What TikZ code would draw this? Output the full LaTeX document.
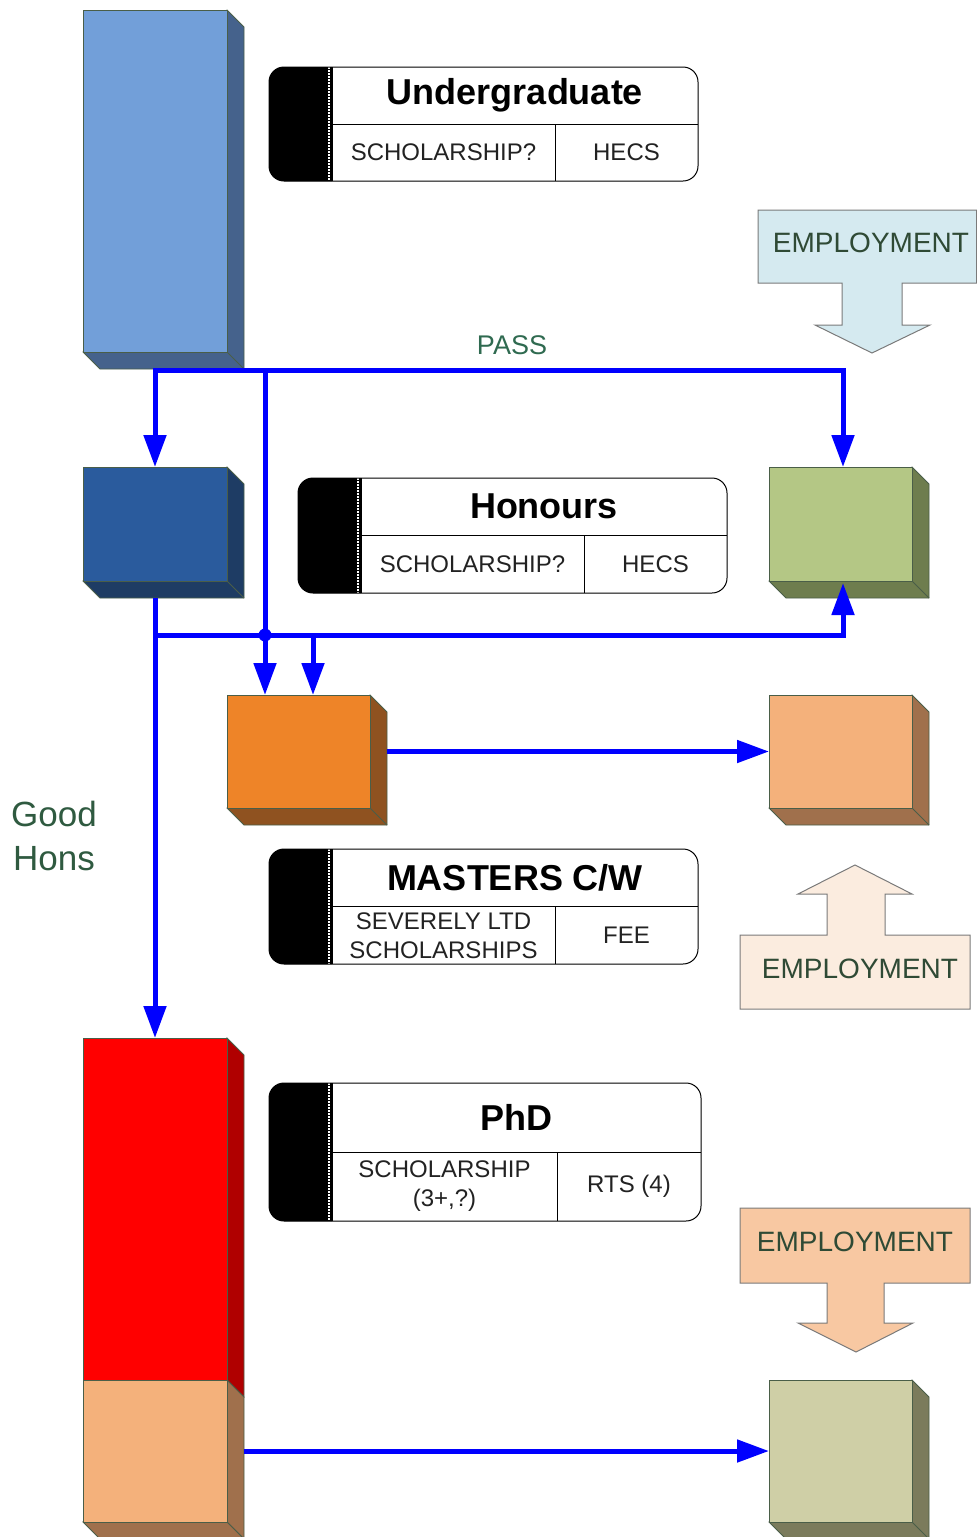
\documentclass[tikz,border=0pt]{standalone}
\usepackage{fontspec}
\setmainfont{Liberation Sans}
\usetikzlibrary{arrows.meta}
\definecolor{edgecol}{HTML}{4A5E48}
\definecolor{connblue}{HTML}{0000FF}
\definecolor{ugfront}{HTML}{729FD9}
\definecolor{ugside}{HTML}{45628C}
\definecolor{hnfront}{HTML}{2A5B9D}
\definecolor{hnside}{HTML}{1E3C64}
\definecolor{grfront}{HTML}{B4C785}
\definecolor{grside}{HTML}{6E7D4E}
\definecolor{orfront}{HTML}{EE8428}
\definecolor{orside}{HTML}{8F5220}
\definecolor{pcfront}{HTML}{F4B17B}
\definecolor{pcside}{HTML}{A0704C}
\definecolor{rdfront}{HTML}{FF0000}
\definecolor{rdside}{HTML}{B00000}
\definecolor{khfront}{HTML}{CFCFA6}
\definecolor{khside}{HTML}{7B7B5C}
\definecolor{callgray}{HTML}{7A7A7A}
\definecolor{emptext}{HTML}{2F4A35}
\definecolor{passtext}{HTML}{2F6A50}
\definecolor{honstext}{HTML}{2F5A40}
\definecolor{celltext}{HTML}{222222}
\definecolor{empA}{HTML}{D5EAF0}
\definecolor{empB}{HTML}{FBECDF}
\definecolor{empC}{HTML}{F8C8A2}

\tikzset{
  edge/.style={draw=edgecol, line width=0.8pt},
  front/.style={edge, inner sep=0pt, outer sep=0pt},
  conn/.style={draw=connblue, line width=5pt},
  arr/.style={conn, -{Triangle[length=32pt,width=22pt]}},
  callout/.style={draw=callgray, line width=1pt},
  titletext/.style={font=\fontsize{36}{40}\selectfont\bfseries},
  celltext/.style={font=\fontsize{24}{29}\selectfont, text=celltext, align=center},
  emptextstyle/.style={font=\fontsize{28}{32}\selectfont, text=emptext},
}

% name, x1, y1, x2, y2, front colour, side colour
\newcommand\cubebox[7]{%
  \filldraw[edge, fill=#7] (#4,#3) -- ({#4+17},{#3+17}) -- ({#4+17},{#5+17}) -- ({#2+17},{#5+17}) -- (#2,#5) -- cycle;
  \draw[edge] (#4,#5) -- ({#4+17},{#5+17});
  \node[front, fill=#6, minimum width={(#4-#2)*1pt}, minimum height={(#5-#3)*1pt}] (#1) at ({(#2+#4)/2},{(#3+#5)/2}) {};
}

% name, x1, y1, x2, y2, xdiv, title, left, right
\newcommand\tablebox[9]{%
  \pgfmathsetmacro\xbk{#2+63}\pgfmathsetmacro\ydv{(#3+#5)/2}%
  \fill[white, rounded corners=15pt] (#2,#3) rectangle (#4,#5);
  \fill[black] (\xbk,#3) [rounded corners=15pt] -- (#2,#3) -- (#2,#5) [sharp corners] -- (\xbk,#5) -- cycle;
  \draw[white, line width=1.2pt, dash pattern=on 1.5pt off 1.5pt] ({\xbk-3},#3) -- ({\xbk-3},#5);
  \draw[line width=1pt] (\xbk,#3) -- (\xbk,#5) (\xbk,\ydv) -- (#4,\ydv) (#6,\ydv) -- (#6,#5);
  \draw[line width=1pt, rounded corners=15pt] (#2,#3) rectangle (#4,#5);
  \node[titletext] (#1-t) at ({(\xbk+#4)/2},{(#3+\ydv)/2}) {#7};
  \node[celltext] (#1-l) at ({(\xbk+#6)/2},{(\ydv+#5)/2}) {#8};
  \node[celltext] (#1-r) at ({(#6+#4)/2},{(\ydv+#5)/2}) {#9};
}

\begin{document}
\begin{tikzpicture}[x=1pt, y=-1pt]
\useasboundingbox (0,0) rectangle (977,1537);
\clip (0,0) rectangle (977,1537);

% boxes
\cubebox{ugrad}{83}{10}{227}{352}{ugfront}{ugside}
\cubebox{hons}{83}{467}{227}{581}{hnfront}{hnside}
\cubebox{green}{769}{467}{912}{581}{grfront}{grside}
\cubebox{orange}{227}{695}{370}{808}{orfront}{orside}
\cubebox{peach}{769}{695}{912}{808}{pcfront}{pcside}
\cubebox{khaki}{769}{1380}{912}{1522}{khfront}{khside}

% stacked PhD bar
\filldraw[edge, fill=rdside] (227,1038) -- (244,1055) -- (244,1397) -- (227,1380) -- cycle;
\filldraw[edge, fill=pcside] (227,1380) -- (244,1397) -- (244,1539) -- (227,1522) -- cycle;
\filldraw[edge, fill=pcside] (83,1522) -- (100,1539) -- (244,1539) -- (227,1522) -- cycle;
\node[front, fill=rdfront, minimum width=144pt, minimum height=342pt] (red) at (155,1209) {};
\node[front, fill=pcfront, minimum width=144pt, minimum height=142pt] (phdpeach) at (155,1451) {};

% table boxes
\tablebox{ugt}{269}{67}{698}{181}{555}{Undergraduate}{SCHOLARSHIP?}{HECS}
\tablebox{hnt}{298}{478}{727}{593}{584}{Honours}{SCHOLARSHIP?}{HECS}
\tablebox{mst}{269}{849}{698}{964}{555}{MASTERS C/W}{SEVERELY LTD\\SCHOLARSHIPS}{FEE}
\tablebox{phd}{269}{1083}{701}{1221}{557}{PhD}{SCHOLARSHIP\\(3+,?)}{RTS (4)}

% employment callouts
\filldraw[callout, fill=empA] (758,210) -- (976.5,210) -- (976.5,283) -- (902,283) -- (902,325) -- (930,325) -- (872,353) -- (815,325) -- (842,325) -- (842,283) -- (758,283) -- cycle;
\node[emptextstyle] (emp1) at (871,243) {EMPLOYMENT};
\filldraw[callout, fill=empB] (740,935) -- (827,935) -- (827,894) -- (798,894) -- (855,865) -- (912,894) -- (885,894) -- (885,935) -- (970,935) -- (970,1009) -- (740,1009) -- cycle;
\node[emptextstyle] (emp2) at (860,969) {EMPLOYMENT};
\filldraw[callout, fill=empC] (740,1208) -- (970,1208) -- (970,1283) -- (884,1283) -- (884,1323) -- (913,1323) -- (856,1352) -- (798,1323) -- (827,1323) -- (827,1283) -- (740,1283) -- cycle;
\node[emptextstyle] (emp3) at (855,1242) {EMPLOYMENT};

% labels
\node[font=\fontsize{27}{30}\selectfont, text=passtext] (pass) at (512,345) {PASS};
\node[font=\fontsize{35}{44}\selectfont, text=honstext, align=center] (goodhons) at (54,836) {Good\\Hons};

% connectors
\coordinate (b1) at (155,370);
\coordinate (b2) at (265,370);
\coordinate (b3) at (843,370);
\coordinate (c1) at (155,635);
\coordinate (c2) at (313,635);
\coordinate (c3) at (843,635);
\draw[conn, {Triangle[length=32pt,width=22pt]}-{Triangle[length=32pt,width=22pt]}] (hons.north) -- (b1) -- (b3) -- (b3 |- green.north);
\draw[arr] (b2) -- (b2 |- orange.north);
\draw[arr] ([yshift=-17pt]hons.south) -- (red.north);
\draw[arr] (c1) -- (c3) -- ([yshift=-2pt]c3 |- green.south);
\draw[arr] (c2) -- (c2 |- orange.north);
\fill[connblue] (265,635) circle (6.5pt);
\draw[arr] ([xshift=17pt]orange.east) -- (peach.west);
\draw[arr] ([xshift=17pt]phdpeach.east) -- (khaki.west);
\end{tikzpicture}
\end{document}
